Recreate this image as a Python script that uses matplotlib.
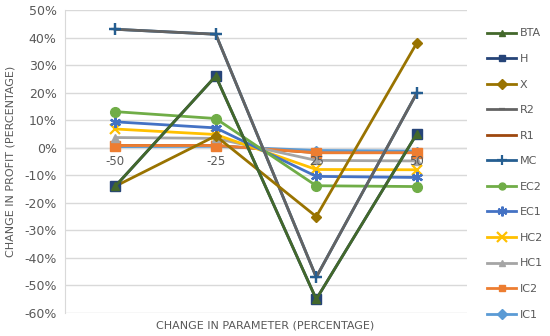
import matplotlib
matplotlib.use("Agg")
import matplotlib.pyplot as plt
from matplotlib.ticker import FuncFormatter

categories = ["-50", "-25", "25", "50"]
series_names = ["BTA", "H", "X", "R2", "R1", "MC", "EC2", "EC1", "HC2", "HC1", "IC2", "IC1"]
BTA = [-14, 26, -55, 5]
H = [-14, 26, -55, 5]
X = [-14, 4.3, -25, 38]
R2 = [43, 41.2, -47, 19.8]
R1 = [0.8, 0.8, -1.8, -1.8]
MC = [43, 41.2, -47, 19.8]
EC2 = [13.1, 10.6, -13.8, -14.1]
EC1 = [9.4, 7.2, -10.4, -10.8]
HC2 = [6.8, 4.8, -7.9, -8.0]
HC1 = [3.7, 3.4, -4.6, -4.8]
IC2 = [0.8, 0.8, -1.8, -1.8]
IC1 = [0.4, 0.5, -1.0, -1.2]

data = [BTA, H, X, R2, R1, MC, EC2, EC1, HC2, HC1, IC2, IC1]
colors = ["#43682b", "#264478", "#997300", "#636363", "#9e480e", "#255e91",
          "#70ad47", "#4472c4", "#ffc000", "#a5a5a5", "#ed7d31", "#5b9bd5"]
markers = ["^", "s", "D", "_", None, "+", "o", (6, 2, 0), "x", "^", "s", "D"]
msizes = [6, 7, 5, 6, 0, 9, 7, 8, 7, 6, 7, 4]

fig = plt.figure(figsize=(5.5, 3.36), dpi=100)
ax = fig.add_axes([65/550, 1 - 313/336, 402/550, 303/336])

xs = list(range(len(categories)))
n = len(data)
for i, (name, vals, c, m, ms) in enumerate(zip(series_names, data, colors, markers, msizes)):
    z = 10 + (n - i) * 2
    if name == "R1":
        z = 5
    ax.plot(xs, vals, color=c, lw=2.0, marker=m, markersize=ms,
            markeredgewidth=1.6 if m in ("+", "x", "_", (6, 2, 0)) else 1.0,
            markeredgecolor=c, markerfacecolor=c, label=name, zorder=z,
            solid_joinstyle="round")
    if name == "MC":
        ax.plot(xs, vals, linestyle="none", marker=m, markersize=ms,
                markeredgewidth=1.6, color=c, zorder=40)

ax.set_xlim(-0.5, len(categories) - 0.5)
ax.set_ylim(-60, 50)
ax.set_yticks(range(-60, 51, 10))
ax.yaxis.set_major_formatter(FuncFormatter(lambda v, p: f"{int(v)}%"))
ax.grid(axis="y", color="#d9d9d9", lw=1.0, zorder=0)
ax.set_axisbelow(True)
for s in ["top", "right", "bottom"]:
    ax.spines[s].set_visible(False)
ax.spines["left"].set_color("#d9d9d9")
ax.axhline(0, color="#d9d9d9", lw=1.0, zorder=1)
ax.tick_params(axis="y", length=0, labelsize=9, labelcolor="#595959", pad=6)
ax.set_xticks([])
for x, lab in zip(xs, categories):
    ax.text(x, -2.8, lab, ha="center", va="top",
            fontsize=8.5, color="#595959", zorder=50)

ax.set_ylabel("CHANGE IN PROFIT (PERCENTAGE)", fontsize=8, color="#595959", labelpad=6)
fig.text(265/550, 1 - 325/336, "CHANGE IN PARAMETER (PERCENTAGE)", ha="center", va="center",
         fontsize=8, color="#595959")

handles, labels = ax.get_legend_handles_labels()
leg = fig.legend(handles, labels, loc="upper left", bbox_to_anchor=(483/550, 1 - 24/336),
                 frameon=False, fontsize=8, labelcolor="#595959", handlelength=2.6,
                 labelspacing=1.4, handletextpad=0.3, borderaxespad=0)
for h, m in zip(leg.legend_handles, markers):
    h.set_markersize(7 if m in ("+", "x", (6, 2, 0)) else 5)

fig.savefig("out.png", dpi=100)
